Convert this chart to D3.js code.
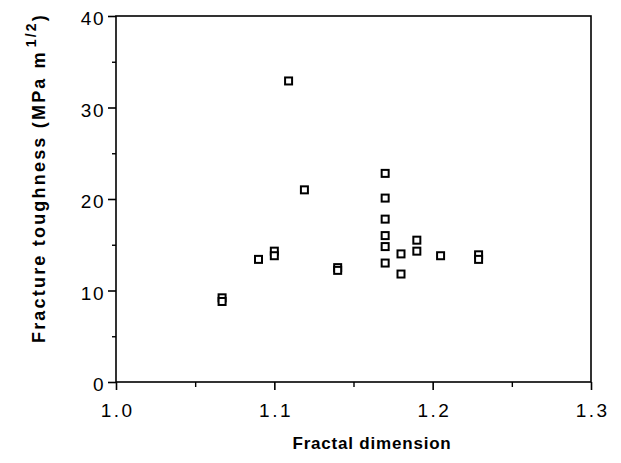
<!DOCTYPE html>
<html><head><meta charset="utf-8">
<script src="https://cdn.jsdelivr.net/npm/d3@7"></script>
<style>
body{margin:0;background:#fff;}
svg{display:block;font-family:"Liberation Sans",Arial,Helvetica,sans-serif;}
</style></head>
<body>
<svg id="chart" width="621" height="463"></svg>
<script>
// Data
const fractalDimension = [1.067,1.067,1.090,1.100,1.100,1.109,1.119,1.140,1.140,1.170,1.170,1.170,1.170,1.170,1.170,1.180,1.180,1.190,1.190,1.205,1.229,1.229];
const fractureToughness = [9.2,8.8,13.4,14.3,13.8,32.9,21.0,12.5,12.2,22.8,20.1,17.8,16.0,14.8,13.0,14.0,11.8,15.5,14.3,13.8,13.9,13.4];
const xTicks = [1.0,1.1,1.2,1.3];
const xTickLabels = ["1.0","1.1","1.2","1.3"];
const yTicks = [0,10,20,30,40];
const xMinorTicks = [1.05,1.15,1.25];
const yMinorTicks = [5,15,25,35];

const svg = d3.select("#chart");
const x = d3.scaleLinear().domain([1.0,1.3]).range([116,591]);
const y = d3.scaleLinear().domain([0,40]).range([382,16]);

// frame
svg.append("rect").attr("x",x(1.0)).attr("y",y(40))
  .attr("width",x(1.3)-x(1.0)).attr("height",y(0)-y(40))
  .attr("fill","none").attr("stroke","#000").attr("stroke-width",1.6);

// x axis
const xAxis = d3.axisBottom(x).tickValues(xTicks).tickFormat((d,i)=>xTickLabels[i]).tickSize(8).tickPadding(6);
const gx = svg.append("g").attr("transform",`translate(0,${y(0)})`).call(xAxis);
gx.attr("font-size",null).attr("font-family",null);
gx.select(".domain").remove();
gx.selectAll("line").attr("stroke","#000").attr("stroke-width",1.6);
gx.selectAll("text").style("font-size","19px").style("letter-spacing","2.5px").attr("fill","#000")
  .attr("dx","1.2px").attr("dy","1.08em");
const xMinor = d3.axisBottom(x).tickValues(xMinorTicks).tickSize(5).tickFormat("");
const gxm = svg.append("g").attr("transform",`translate(0,${y(0)})`).call(xMinor);
gxm.select(".domain").remove();
gxm.selectAll("line").attr("stroke","#000").attr("stroke-width",1.4);

// y axis
const yAxis = d3.axisLeft(y).tickValues(yTicks).tickSize(8).tickPadding(3);
const gy = svg.append("g").attr("transform",`translate(${x(1.0)},0)`).call(yAxis);
gy.attr("font-size",null).attr("font-family",null);
gy.select(".domain").remove();
gy.selectAll("line").attr("stroke","#000").attr("stroke-width",1.6);
gy.selectAll("text").style("font-size","19px").style("letter-spacing","1.5px").attr("fill","#000")
  .attr("dy","0.45em");
const yMinor = d3.axisLeft(y).tickValues(yMinorTicks).tickSize(4).tickFormat("");
const gym = svg.append("g").attr("transform",`translate(${x(1.0)},0)`).call(yMinor);
gym.select(".domain").remove();
gym.selectAll("line").attr("stroke","#000").attr("stroke-width",1.4);

// axis titles
svg.append("text").attr("x",372).attr("y",449).attr("text-anchor","middle")
  .style("font-size","17px").attr("font-weight","bold").style("letter-spacing","0.8px")
  .text("Fractal dimension");
const yl = svg.append("text").attr("transform","translate(45,178) rotate(-90)")
  .attr("text-anchor","middle").style("font-size","18px").attr("font-weight","bold").style("letter-spacing","2.2px");
yl.append("tspan").text("Fracture toughness (MPa");
yl.append("tspan").attr("dx",8).text("m");
yl.append("tspan").attr("dy",-9).attr("dx",3).style("font-size","14px").text("1/2");
yl.append("tspan").attr("dy",9).text(")");

// points
const pts = fractalDimension.map((d,i)=>({fx:d, kc:fractureToughness[i]}));
const s = 7;
svg.append("g").selectAll("rect").data(pts).join("rect")
  .attr("x",d=>x(d.fx)-s/2).attr("y",d=>y(d.kc)-s/2)
  .attr("width",s).attr("height",s)
  .attr("fill","#fff").attr("stroke","#000").attr("stroke-width",2);
</script>
</body></html>
